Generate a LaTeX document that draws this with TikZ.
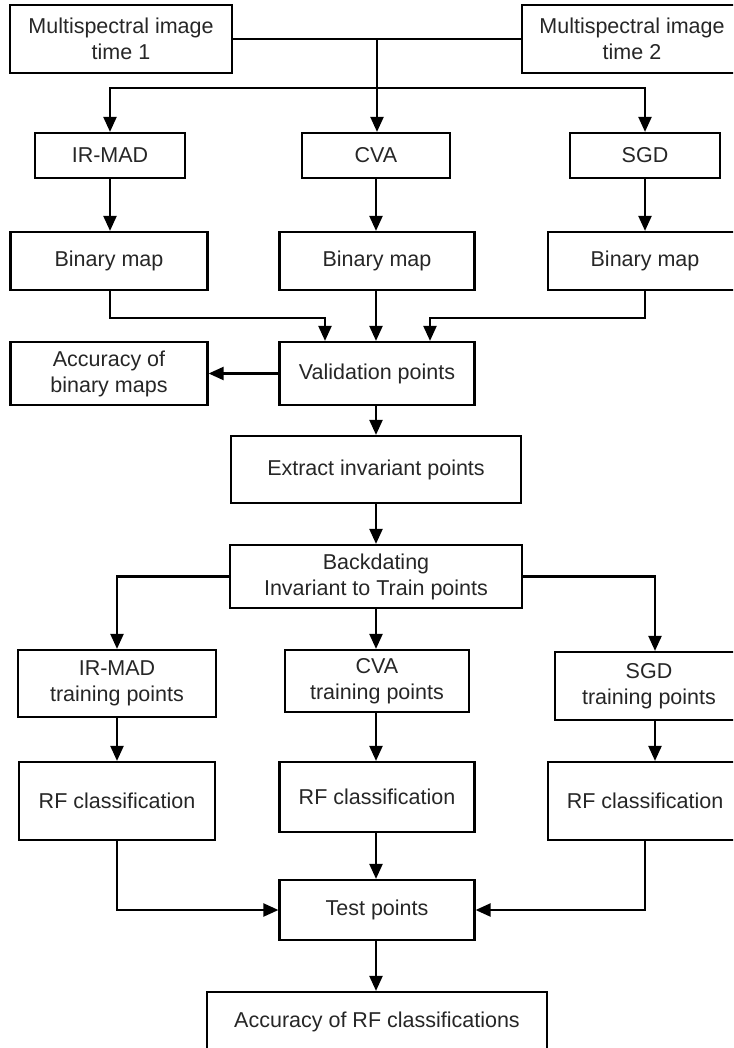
\documentclass[tikz,border=0pt]{standalone}
\usepackage{fontspec}
\setmainfont{Liberation Sans}
\usetikzlibrary{arrows.meta,calc}
\begin{document}
\begin{tikzpicture}[x=1pt,y=-1pt,
  box/.style={draw=black, line width=2.2pt, align=center, inner sep=0pt,
    font=\fontsize{21.5}{26}\selectfont, text=black!85},
  arr/.style={line width=2.2pt, -{Triangle[length=15pt,width=13pt]}},
  ln/.style={line width=2.2pt}]
\useasboundingbox (0,0) rectangle (733,1048);
\clip (0,0) rectangle (733,1048);
% row 1
\node[box, minimum width=222pt, minimum height=68pt] (ms1) at (121,39) {Multispectral image\\time 1};
\node[box, minimum width=220pt, minimum height=68pt] (ms2) at (632,39) {Multispectral image\\time 2};
% row 2
\node[box, minimum width=150pt, minimum height=45pt] (irmad) at (110,155.5) {IR-MAD};
\node[box, minimum width=148pt, minimum height=45pt] (cva) at (376,155.5) {CVA};
\node[box, minimum width=150pt, minimum height=45pt] (sgd) at (645,155.5) {SGD};
% row 3
\node[box, minimum width=197pt, minimum height=58pt] (bm1) at (109,261) {Binary map};
\node[box, minimum width=195pt, minimum height=58pt] (bm2) at (377,261) {Binary map};
\node[box, minimum width=194pt, minimum height=58pt] (bm3) at (645,261) {Binary map};
% row 4
\node[box, minimum width=197pt, minimum height=63pt] (accb) at (109,373.5) {Accuracy of\\binary maps};
\node[box, minimum width=195pt, minimum height=63pt] (val) at (377,373.5) {Validation points};
% row 5
\node[box, minimum width=290pt, minimum height=67pt] (ext) at (376,469.5) {Extract invariant points};
% row 6
\node[box, minimum width=292pt, minimum height=63pt] (back) at (376,576.5) {Backdating\\Invariant to Train points};
% row 7
\node[box, minimum width=198pt, minimum height=67pt] (tr1) at (117,683.5) {IR-MAD\\training points};
\node[box, minimum width=184pt, minimum height=62pt] (tr2) at (377,681) {CVA\\training points};
\node[box, minimum width=188pt, minimum height=68pt] (tr3) at (649,686) {SGD\\training points};
% row 8
\node[box, minimum width=196pt, minimum height=78pt] (rf1) at (117,801) {RF classification};
\node[box, minimum width=195pt, minimum height=70pt] (rf2) at (377,797) {RF classification};
\node[box, minimum width=194pt, minimum height=78pt] (rf3) at (645,801) {RF classification};
% row 9
\node[box, minimum width=195pt, minimum height=60pt] (test) at (377,910) {Test points};
\node[box, minimum width=340pt, minimum height=60pt] (accrf) at (377,1022) {Accuracy of RF classifications};
% connectors top
\draw[ln] (ms1.east) -- (ms2.west);
\coordinate (j1) at ($(ms1.east)!0.5!(ms2.west)$);
\draw[arr] (j1) -- (j1 |- cva.north);
\coordinate (h1) at (j1 |- 0,88);
\draw[arr] (h1) -| (irmad.north);
\draw[arr] (h1) -| (sgd.north);
\draw[arr] (irmad.south) -- (irmad.south |- bm1.north);
\draw[arr] (cva.south) -- (cva.south |- bm2.north);
\draw[arr] (sgd.south) -- (sgd.south |- bm3.north);
% binary maps to validation
\coordinate (v1) at (325,318);
\coordinate (v3) at (430,318);
\draw[arr] (irmad.south |- bm1.south) |- (v1) -- (v1 |- val.north);
\draw[arr] (cva.south |- bm2.south) -- (cva.south |- val.north);
\draw[arr] (sgd.south |- bm3.south) |- (v3) -- (v3 |- val.north);
\draw[arr] (val.west) -- (accb.east);
\draw[arr] (cva.south |- val.south) -- (cva.south |- ext.north);
\draw[arr] (cva.south |- ext.south) -- (cva.south |- back.north);
% backdating to training
\draw[arr] (back.west) -| (tr1.north);
\draw[arr] (back.south) -- (back.south |- tr2.north);
\coordinate (t3) at (655,0);
\draw[arr] (back.east) -| (t3 |- tr3.north);
\draw[arr] (tr1.south) -- (tr1.south |- rf1.north);
\draw[arr] (back.south |- tr2.south) -- (back.south |- rf2.north);
\draw[arr] (t3 |- tr3.south) -- (t3 |- rf3.north);
% rf to test
\draw[arr] (rf1.south) |- (test.west);
\draw[arr] (back.south |- rf2.south) -- (back.south |- test.north);
\draw[arr] (rf3.south) |- (test.east);
\draw[arr] (back.south |- test.south) -- (back.south |- accrf.north);
\end{tikzpicture}
\end{document}
